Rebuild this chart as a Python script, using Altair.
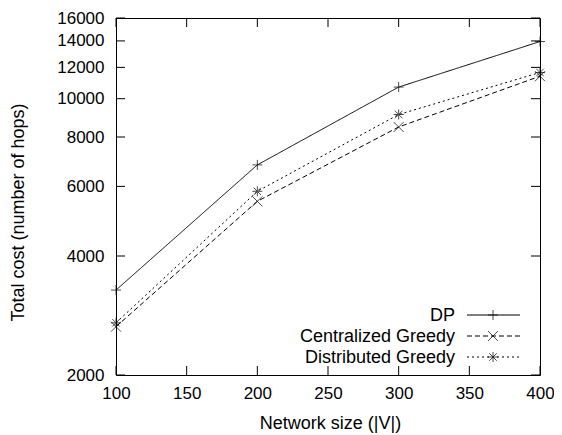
import altair as alt
import pandas as pd

# ---- data ----
sizes = [100, 200, 300, 400]
dp_cost = [3280, 6800, 10700, 13950]
cg_cost = [2650, 5500, 8480, 11400]
dg_cost = [2710, 5830, 9120, 11650]
series = ["DP", "Centralized Greedy", "Distributed Greedy"]
x_ticks = [100, 150, 200, 250, 300, 350, 400]
y_ticks = [2000, 4000, 6000, 8000, 10000, 12000, 14000, 16000]

# ---- styling ----
W, H = 424, 357
FONT = "Liberation Sans"
FS = 18
LFS = 17
PLUS = "M-1,0L1,0M0,-1L0,1"
CROSS = "M-1,-1L1,1M-1,1L1,-1"
STAR = "M-1,0L1,0M0,-1L0,1M-0.75,-0.75L0.75,0.75M-0.75,0.75L0.75,-0.75"
shapes = [PLUS, CROSS, STAR]
dashes = [[1, 0], [5, 3], [2, 3]]

rows = []
for name, vals in zip(series, [dp_cost, cg_cost, dg_cost]):
    for s, v in zip(sizes, vals):
        rows.append({"size": s, "cost": v, "series": name})
df = pd.DataFrame(rows)

xscale = alt.Scale(domain=[100, 400], nice=False, zero=False)
yscale = alt.Scale(type="log", domain=[2000, 16000], nice=False)

xenc = alt.X("size:Q", scale=xscale,
             axis=alt.Axis(values=x_ticks, title="Network size (|V|)", grid=False,
                           tickSize=0, domain=False, labelPadding=10,
                           titleX=214, titleY=48, titleBaseline="middle",
                           labelFlush=False))
yenc = alt.Y("cost:Q", scale=yscale,
             axis=alt.Axis(values=y_ticks, title="Total cost (number of hops)", grid=False,
                           tickSize=0, domain=False, labelPadding=12, format="d",
                           titleX=-98, titleY=194, titleBaseline="middle",
                           titleAngle=-90, labelFlush=False))

dash_scale = alt.Scale(domain=series, range=dashes)
shape_scale = alt.Scale(domain=series, range=shapes)

lines = alt.Chart(df).mark_line(color="black", strokeWidth=1).encode(
    x=xenc, y=yenc,
    strokeDash=alt.StrokeDash("series:N", scale=dash_scale, legend=None),
    detail="series:N",
)
points = alt.Chart(df).mark_point(color="black", filled=False, strokeWidth=1, size=100).encode(
    x=alt.X("size:Q", scale=xscale),
    y=alt.Y("cost:Q", scale=yscale),
    shape=alt.Shape("series:N", scale=shape_scale, legend=None),
)

# inward tick marks on all four sides (gnuplot style)
xt = pd.DataFrame({"v": x_ticks})
yt = pd.DataFrame({"v": y_ticks})
TL = 9
xt_bottom = alt.Chart(xt).mark_rule(color="black").encode(
    x=alt.X("v:Q", scale=xscale), y=alt.value(H), y2=alt.value(H - TL))
xt_top = alt.Chart(xt).mark_rule(color="black").encode(
    x=alt.X("v:Q", scale=xscale), y=alt.value(0), y2=alt.value(TL))
yt_left = alt.Chart(yt).mark_rule(color="black").encode(
    y=alt.Y("v:Q", scale=yscale), x=alt.value(0), x2=alt.value(TL))
yt_right = alt.Chart(yt).mark_rule(color="black").encode(
    y=alt.Y("v:Q", scale=yscale), x=alt.value(W), x2=alt.value(W - TL))

# gnuplot-style key: label, then line sample with marker
legend_layers = []
row_y = [297, 318, 339]
for name, ry, shp, dsh in zip(series, row_y, shapes, dashes):
    d = pd.DataFrame({"label": [name]})
    legend_layers.append(
        alt.Chart(d).mark_text(align="right", baseline="middle", fontSize=FS,
                               font=FONT, color="black", dy=1).encode(
            text="label:N", x=alt.value(339), y=alt.value(ry)))
    legend_layers.append(
        alt.Chart(d).mark_rule(color="black", strokeWidth=1, strokeDash=dsh).encode(
            x=alt.value(351), x2=alt.value(404), y=alt.value(ry)))
    legend_layers.append(
        alt.Chart(d).mark_point(shape=shp, filled=False, color="black",
                                strokeWidth=1, size=100).encode(
            x=alt.value(377), y=alt.value(ry)))

chart = alt.layer(lines, points, xt_bottom, xt_top, yt_left, yt_right,
                  *legend_layers).properties(
    width=W, height=H,
    autosize=alt.AutoSizeParams(type="none"),
    padding={"left": 108, "top": 10, "right": 14, "bottom": 58},
    background="white",
).configure_view(
    stroke="black", strokeWidth=1
).configure_axis(
    labelFont=FONT, titleFont=FONT, labelFontSize=LFS, titleFontSize=FS,
    titleFontWeight="normal", labelColor="black", titleColor="black",
)

chart.save("out.html", embed_options={"renderer": "svg", "actions": False})
